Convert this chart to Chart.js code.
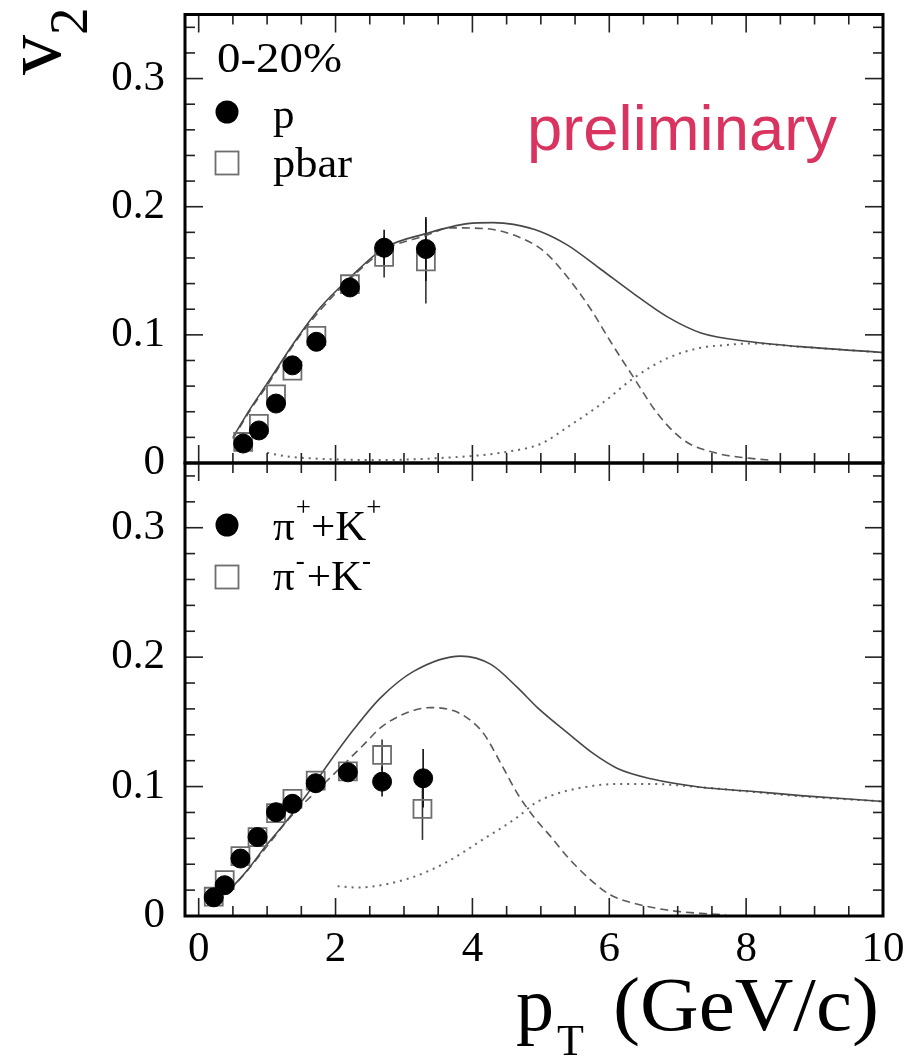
<!DOCTYPE html>
<html><head><meta charset="utf-8">
<script src="https://cdn.jsdelivr.net/npm/chart.js@4/dist/chart.umd.min.js"></script>
<style>
html,body{margin:0;padding:0;background:#fff;}
#wrap{position:relative;width:917px;height:1058px;overflow:hidden;}
canvas{position:absolute;left:0;top:0;}
</style></head><body>
<div id="wrap"><canvas id="cTop" width="917" height="1058"></canvas><canvas id="cBot" width="917" height="1058"></canvas></div>
<script>
// ---------- axis ticks ----------
const xTickValues = [0, 2, 4, 6, 8, 10];
const xTickLabels = ['0', '2', '4', '6', '8', '10'];
const yTickValues = [0, 0.1, 0.2, 0.3];
const yTickLabels = ['0', '0.1', '0.2', '0.3'];

// ---------- top panel (0-20%, protons) ----------
const pPt     = [0.65, 0.88, 1.13, 1.37, 1.72, 2.21, 2.71, 3.32];
const pV2     = [0.0152, 0.0254, 0.0464, 0.0762, 0.0946, 0.137, 0.168, 0.167];
const pErr    = [0, 0, 0, 0, 0, 0, 0.014, 0.025];
const pbarPt  = [0.65, 0.88, 1.13, 1.37, 1.72, 2.21, 2.71, 3.32];
const pbarV2  = [0.0164, 0.0305, 0.0536, 0.072, 0.0992, 0.1395, 0.1608, 0.1574];
const pbarErr = [0, 0, 0, 0, 0, 0, 0.016, 0.033];

const topSolidPt  = [0.5, 0.75, 1.0, 1.44, 1.78, 2.21, 2.71, 3.32, 3.93, 4.3, 4.6, 5.0, 5.39, 5.88, 6.36, 6.85, 7.34, 8.07, 8.8, 10.0];
const topSolidV2  = [0.020, 0.042, 0.062, 0.0975, 0.1215, 0.1446, 0.1677, 0.179, 0.1868, 0.1876, 0.1862, 0.1805, 0.170, 0.151, 0.132, 0.114, 0.1015, 0.0946, 0.0908, 0.0862];
const topDashPt   = [0.5, 0.75, 1.0, 1.44, 1.78, 2.21, 2.71, 3.32, 3.68, 4.17, 4.66, 5.05, 5.39, 5.73, 6.02, 6.36, 6.71, 7.09, 7.58, 8.07, 8.4];
const topDashV2   = [0.019, 0.041, 0.0605, 0.0965, 0.1195, 0.1435, 0.166, 0.1775, 0.1835, 0.183, 0.1767, 0.1650, 0.145, 0.120, 0.0946, 0.0664, 0.0382, 0.0177, 0.0075, 0.0036, 0.002];
const topDotPt    = [1.0, 1.3, 1.7, 2.2, 2.7, 3.2, 3.7, 4.1, 4.5, 5.0, 5.39, 5.88, 6.36, 6.85, 7.34, 7.7, 8.07, 8.8, 10.0];
const topDotV2    = [0.008, 0.005, 0.0035, 0.0025, 0.0023, 0.003, 0.0044, 0.006, 0.0087, 0.015, 0.028, 0.046, 0.0664, 0.0818, 0.090, 0.092, 0.0933, 0.0906, 0.0862];

// ---------- bottom panel (pions + kaons) ----------
const piKPlusPt   = [0.22, 0.38, 0.61, 0.86, 1.13, 1.37, 1.71, 2.18, 2.68, 3.28];
const piKPlusV2   = [0.0144, 0.0238, 0.0444, 0.061, 0.0802, 0.0867, 0.1026, 0.111, 0.1038, 0.1064];
const piKPlusErr  = [0, 0, 0, 0, 0, 0, 0, 0.004, 0.0115, 0.0226];
const piKMinusPt  = [0.22, 0.38, 0.61, 0.86, 1.13, 1.37, 1.71, 2.18, 2.68, 3.27];
const piKMinusV2  = [0.0149, 0.0277, 0.0462, 0.061, 0.0795, 0.0905, 0.1046, 0.1118, 0.1244, 0.0828];
const piKMinusErr = [0, 0, 0, 0, 0, 0, 0, 0, 0.012, 0.024];

const botSolidPt  = [0.45, 0.71, 1.0, 1.29, 1.59, 1.88, 2.27, 2.66, 3.14, 3.83, 4.27, 4.66, 4.95, 5.39, 5.78, 6.12, 6.61, 7.34, 8.07, 8.8, 10.0];
const botSolidV2  = [0.020, 0.0354, 0.0554, 0.0738, 0.0945, 0.1165, 0.1444, 0.1687, 0.189, 0.2008, 0.1944, 0.1764, 0.161, 0.1415, 0.125, 0.1140, 0.106, 0.0995, 0.0964, 0.093, 0.0885];
const botDashPt   = [0.45, 0.71, 1.0, 1.34, 1.78, 2.42, 2.66, 3.05, 3.39, 3.73, 3.98, 4.17, 4.42, 4.66, 4.9, 5.15, 5.39, 5.73, 6.02, 6.36, 6.85, 7.34, 7.7];
const botDashV2   = [0.0195, 0.035, 0.054, 0.0764, 0.0995, 0.1328, 0.1456, 0.1572, 0.161, 0.1585, 0.1508, 0.1405, 0.1175, 0.0944, 0.0764, 0.061, 0.0456, 0.0277, 0.0162, 0.0098, 0.0046, 0.002, 0.001];
const botDotPt    = [2.03, 2.32, 2.66, 3.14, 3.63, 4.17, 4.66, 4.9, 5.15, 5.63, 6.12, 6.61, 7.34, 8.07, 8.8, 10.0];
const botDotV2    = [0.023, 0.022, 0.0238, 0.0302, 0.0418, 0.0597, 0.0764, 0.0867, 0.093, 0.0995, 0.102, 0.102, 0.0995, 0.096, 0.0925, 0.0885];

// ---------- helpers ----------
const SERIF = "'Liberation Serif','Times New Roman',serif";
const SANS = "'Liberation Sans',Arial,sans-serif";
const pts = (xs, ys) => xs.map((x, i) => ({x: x, y: ys[i]}));

function curve(xs, ys, dash, color, width) {
  return {data: pts(xs, ys), showLine: true, pointRadius: 0, borderColor: color, borderWidth: width,
    borderDash: dash, cubicInterpolationMode: 'monotone', fill: false, order: 5};
}
function circles(xs, ys, errs) {
  return {data: pts(xs, ys), showLine: false, pointStyle: 'circle', pointRadius: 9.5,
    pointBackgroundColor: '#000', pointBorderColor: '#000', pointBorderWidth: 1, order: 0,
    errY: errs, errColor: '#111'};
}
function squares(xs, ys, errs) {
  return {data: pts(xs, ys), showLine: false, pointStyle: 'rect', pointRadius: 12.7,
    pointBackgroundColor: 'rgba(0,0,0,0)', pointBorderColor: '#6e6e6e', pointBorderWidth: 1.8, order: 1,
    errY: errs, errColor: '#333'};
}

function txt(ctx, s, x, y, font, color, w) {
  ctx.font = font; ctx.fillStyle = color || '#000'; ctx.textBaseline = 'alphabetic'; ctx.textAlign = 'left';
  const n = ctx.measureText(s).width;
  if (w) { ctx.save(); ctx.translate(x, y); ctx.scale(w / n, 1); ctx.fillText(s, 0, 0); ctx.restore(); return x + w; }
  ctx.fillText(s, x, y); return x + n;
}
function legCircle(ctx, x, y) { ctx.beginPath(); ctx.arc(x, y, 11.5, 0, Math.PI * 2); ctx.fillStyle = '#000'; ctx.fill(); }
function legSquare(ctx, x, y) { ctx.lineWidth = 1.8; ctx.strokeStyle = '#6e6e6e'; ctx.strokeRect(x - 11.5, y - 11.5, 23, 23); }

const errPlugin = {
  id: 'errbars',
  beforeDatasetsDraw(chart) {
    const ctx = chart.ctx, x = chart.scales.x, y = chart.scales.y;
    ctx.save();
    chart.data.datasets.forEach(ds => {
      if (!ds.errY) return;
      ctx.strokeStyle = ds.errColor; ctx.lineWidth = 1.6;
      ds.data.forEach((p, i) => {
        const e = ds.errY[i]; if (!e) return;
        const px = x.getPixelForValue(p.x);
        ctx.beginPath(); ctx.moveTo(px, y.getPixelForValue(p.y + e)); ctx.lineTo(px, y.getPixelForValue(p.y - e)); ctx.stroke();
      });
    });
    ctx.restore();
  }
};

const framePlugin = {
  id: 'frame',
  afterDraw(chart) {
    const ctx = chart.ctx, a = chart.chartArea, x = chart.scales.x, y = chart.scales.y;
    ctx.save();
    ctx.strokeStyle = '#222'; ctx.lineWidth = 1.6;
    const ln = (x1, y1, x2, y2) => { ctx.beginPath(); ctx.moveTo(x1, y1); ctx.lineTo(x2, y2); ctx.stroke(); };
    for (let k = 0; k < 20; k++) {
      const px = x.getPixelForValue(k * 0.5); const L = (k % 4 === 0) ? 18 : 10;
      ln(px, a.bottom, px, a.bottom - L); ln(px, a.top, px, a.top + L);
    }
    for (let k = 1; k <= 17; k++) {
      const py = y.getPixelForValue(k * 0.02); const L = (k % 5 === 0) ? 18 : 10;
      ln(a.left, py, a.left + L, py); ln(a.right, py, a.right - L, py);
    }
    ctx.strokeStyle = '#000'; ctx.lineWidth = 3;
    ctx.strokeRect(a.left, a.top, a.right - a.left, a.bottom - a.top);
    ctx.restore();
  }
};

const topTextPlugin = {
  id: 'topText',
  afterDraw(chart) {
    const ctx = chart.ctx;
    ctx.save();
    txt(ctx, '0-20%', 217, 72, '43px ' + SERIF, '#000', 125);
    legCircle(ctx, 227, 112);
    txt(ctx, 'p', 273, 128, '43px ' + SERIF, '#000');
    legSquare(ctx, 227, 163);
    txt(ctx, 'pbar', 273, 177, '43px ' + SERIF, '#000', 79);
    txt(ctx, 'preliminary', 527, 150, '63px ' + SANS, '#d9335f', 310);
    // y-axis title v2 (rotated)
    ctx.save(); ctx.translate(60, 75); ctx.rotate(-Math.PI / 2);
    txt(ctx, 'v', 0, 0, '80px ' + SERIF, '#000');
    txt(ctx, '2', 40, 27, '55px ' + SERIF, '#000');
    ctx.restore();
    ctx.restore();
  }
};

const botTextPlugin = {
  id: 'botText',
  afterDraw(chart) {
    const ctx = chart.ctx;
    ctx.save();
    legCircle(ctx, 227, 525);
    let cx = txt(ctx, '\u03c0', 273, 540, '43px ' + SERIF);
    cx = txt(ctx, '+', cx + 1, 516, '27px ' + SERIF);
    cx = txt(ctx, '+K', cx, 540, '43px ' + SERIF);
    txt(ctx, '+', cx, 516, '27px ' + SERIF);
    legSquare(ctx, 227, 577);
    cx = txt(ctx, '\u03c0', 273, 590, '43px ' + SERIF);
    cx = txt(ctx, '-', cx + 1, 569, '27px ' + SERIF);
    cx = txt(ctx, '+K', cx + 2, 590, '43px ' + SERIF);
    txt(ctx, '-', cx, 569, '27px ' + SERIF);
    // x-axis title
    txt(ctx, 'p', 516, 1030, '76px ' + SERIF);
    txt(ctx, 'T', 557, 1055, '44px ' + SERIF);
    txt(ctx, '(GeV/c)', 613, 1030, '76px ' + SERIF, '#000', 266);
    ctx.restore();
  }
};

function makeChart(id, isBottom) {
  const datasets = isBottom ? [
    curve(botSolidPt, botSolidV2, [], '#474747', 1.6),
    curve(botDashPt, botDashV2, [8, 5], '#5a5a5a', 1.6),
    curve(botDotPt, botDotV2, [2, 5], '#666', 2),
    squares(piKMinusPt, piKMinusV2, piKMinusErr),
    circles(piKPlusPt, piKPlusV2, piKPlusErr)
  ] : [
    curve(topSolidPt, topSolidV2, [], '#474747', 1.6),
    curve(topDashPt, topDashV2, [8, 5], '#5a5a5a', 1.6),
    curve(topDotPt, topDotV2, [2, 5], '#666', 2),
    squares(pbarPt, pbarV2, pbarErr),
    circles(pPt, pV2, pErr)
  ];
  return new Chart(document.getElementById(id), {
    type: 'scatter',
    data: {datasets: datasets},
    options: {
      responsive: false, animation: false, events: [],
      layout: {padding: isBottom ? {left: 0, right: 34, top: 463, bottom: 0} : {left: 0, right: 34, top: 8, bottom: 595}},
      plugins: {legend: {display: false}, tooltip: {enabled: false}},
      scales: {
        x: {
          type: 'linear', min: -0.2, max: 10, position: 'bottom', display: isBottom,
          grid: {display: false, drawTicks: false}, border: {display: false},
          afterBuildTicks: s => { s.ticks = xTickValues.map(v => ({value: v})); },
          ticks: {callback: (v, i) => xTickLabels[i], font: {family: SERIF, size: 43}, color: '#000',
            padding: 8, maxRotation: 0, autoSkip: false},
          afterFit: s => { if (isBottom) { s.height = 142; } s.paddingLeft = 0; s.paddingRight = 0; }
        },
        y: {
          type: 'linear', min: 0, max: 0.35, position: 'left',
          grid: {display: false, drawTicks: false}, border: {display: false},
          afterBuildTicks: s => { s.ticks = yTickValues.map(v => ({value: v})); },
          ticks: {callback: (v, i) => yTickLabels[i], font: {family: SERIF, size: 43}, color: '#000',
            padding: 20, autoSkip: false},
          afterFit: s => { s.width = 185; s.paddingTop = 0; s.paddingBottom = 0; }
        }
      }
    },
    plugins: [errPlugin, framePlugin, isBottom ? botTextPlugin : topTextPlugin]
  });
}
makeChart('cTop', false);
makeChart('cBot', true);
</script>
</body></html>
